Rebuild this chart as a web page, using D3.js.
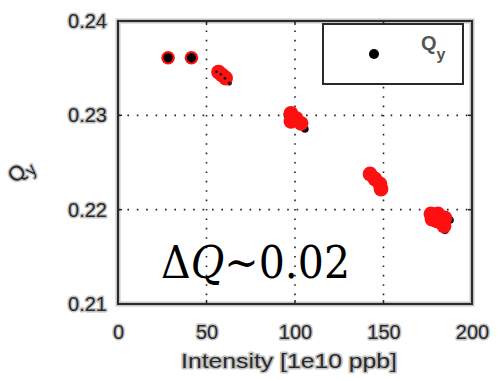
<!DOCTYPE html>
<html>
<head>
<meta charset="utf-8">
<script src="https://cdn.jsdelivr.net/npm/d3@7"></script>
<style>
  body { margin: 0; background: #fff; }
  svg { display: block; }
  .lbl { font-family: "Liberation Sans", Arial, sans-serif; fill: #2a2a2a; stroke: #c4c4c4; stroke-width: 3px; paint-order: stroke; stroke-linejoin: round; }
</style>
</head>
<body>
<svg width="498" height="381"></svg>
<script>
// tune vs intensity
var xTicks = [0, 50, 100, 150, 200];
var yTicks = [0.21, 0.22, 0.23, 0.24];

// isolated shots (black marker over red)
var shotIntensity = [28.3, 41.5];
var shotTune = [0.2361, 0.2361];

// red clusters
var clusterIntensity = [56.8, 58.8, 60.8,
  97.7, 100.6, 103.4, 97.7,
  142.4, 145.2, 148.0, 148.6,
  176.8, 180.8, 184.7, 184.2, 180.2, 177.4];
var clusterTune = [0.23459, 0.23428, 0.23396,
  0.23021, 0.22968, 0.22915, 0.22936,
  0.22378, 0.22325, 0.22272, 0.22219,
  0.21954, 0.21954, 0.21912, 0.21827, 0.2188, 0.21901];

// black spots showing through the clusters
var darkIntensity = [55.7, 58.1, 60.4, 62.8, 96.0, 105.6, 146.1, 148.9, 176.3, 187.6, 184.7];
var darkTune = [0.23462, 0.23435, 0.23392, 0.23346, 0.23003, 0.22855, 0.22333, 0.22209, 0.21979, 0.2189, 0.21784];
var darkSize = [1.3, 1.3, 1.3, 1.3, 3, 2.3, 2, 2.5, 2.8, 2.3, 2.6];

var svg = d3.select("svg");
var x = d3.scaleLinear().domain([0, 200]).range([118, 472]);
var y = d3.scaleLinear().domain([0.21, 0.24]).range([304, 21]);

// frame halo + grid
svg.append("rect")
  .attr("x", x(0)).attr("y", y(0.24))
  .attr("width", x(200) - x(0)).attr("height", y(0.21) - y(0.24))
  .attr("fill", "#fff").attr("stroke", "#c4c4c4").attr("stroke-width", 5);

var grid = svg.append("g")
  .attr("stroke", "#222").attr("stroke-width", 1.6)
  .attr("stroke-dasharray", "1.6,7.8");
grid.selectAll(".gx").data([50, 100, 150]).enter().append("line")
  .attr("x1", function (d) { return x(d); }).attr("x2", function (d) { return x(d); })
  .attr("y1", y(0.24)).attr("y2", y(0.21));
grid.selectAll(".gy").data([0.22, 0.23]).enter().append("line")
  .attr("y1", function (d) { return y(d); }).attr("y2", function (d) { return y(d); })
  .attr("x1", x(0)).attr("x2", x(200));

// inner ticks
var tk = svg.append("g").attr("stroke", "#222").attr("stroke-width", 1.5);
[50, 100, 150].forEach(function (d) {
  tk.append("line").attr("x1", x(d)).attr("x2", x(d)).attr("y1", y(0.24)).attr("y2", y(0.24) + 4);
  tk.append("line").attr("x1", x(d)).attr("x2", x(d)).attr("y1", y(0.21)).attr("y2", y(0.21) - 4);
});
[0.22, 0.23].forEach(function (d) {
  tk.append("line").attr("y1", y(d)).attr("y2", y(d)).attr("x1", x(0)).attr("x2", x(0) + 4);
  tk.append("line").attr("y1", y(d)).attr("y2", y(d)).attr("x1", x(200)).attr("x2", x(200) - 4);
});

// data
var shots = d3.range(shotIntensity.length);
svg.append("g").selectAll("circle").data(shots).enter().append("circle")
  .attr("cx", function (i) { return x(shotIntensity[i]); })
  .attr("cy", function (i) { return y(shotTune[i]); })
  .attr("r", 6.8).attr("fill", "#ff1010");
svg.append("g").selectAll("circle").data(shots).enter().append("circle")
  .attr("cx", function (i) { return x(shotIntensity[i]); })
  .attr("cy", function (i) { return y(shotTune[i]); })
  .attr("r", 4.6).attr("fill", "#000");

svg.append("g").selectAll("circle").data(d3.range(darkIntensity.length)).enter().append("circle")
  .attr("cx", function (i) { return x(darkIntensity[i]); })
  .attr("cy", function (i) { return y(darkTune[i]); })
  .attr("r", function (i) { return darkSize[i] + 1.5; }).attr("fill", "#111");
svg.append("g").selectAll("circle").data(d3.range(clusterIntensity.length)).enter().append("circle")
  .attr("cx", function (i) { return x(clusterIntensity[i]); })
  .attr("cy", function (i) { return y(clusterTune[i]); })
  .attr("r", 7.4).attr("fill", "#ff1010");
svg.append("g").selectAll("circle").data(d3.range(4)).enter().append("circle")
  .attr("cx", function (i) { return x(darkIntensity[i]); })
  .attr("cy", function (i) { return y(darkTune[i]); })
  .attr("r", function (i) { return darkSize[i]; }).attr("fill", "#111");

// frame on top
svg.append("rect")
  .attr("x", x(0)).attr("y", y(0.24))
  .attr("width", x(200) - x(0)).attr("height", y(0.21) - y(0.24))
  .attr("fill", "none").attr("stroke", "#2a2a2a").attr("stroke-width", 2);

// axes labels
var yAxis = svg.append("g").attr("transform", "translate(" + x(0) + ",0)")
  .call(d3.axisLeft(y).tickValues(yTicks).tickFormat(d3.format(".2f")).tickSize(0).tickPadding(11));
var xAxis = svg.append("g").attr("transform", "translate(0," + y(0.21) + ")")
  .call(d3.axisBottom(x).tickValues(xTicks).tickFormat(d3.format("d")).tickSize(0).tickPadding(21));
[yAxis, xAxis].forEach(function (a) {
  a.select(".domain").remove();
  a.selectAll("text").attr("class", "lbl").style("font-size", "20px");
});

svg.append("text").attr("class", "lbl")
  .attr("x", 289).attr("y", 368).attr("text-anchor", "middle")
  .attr("textLength", 216).attr("lengthAdjust", "spacingAndGlyphs")
  .style("font-size", "20px")
  .text("Intensity [1e10 ppb]");

var yl = svg.append("text").attr("class", "lbl")
  .attr("transform", "translate(16,184) rotate(-45)")
  .style("font-size", "21px");
yl.append("tspan").text("Q");
yl.append("tspan").attr("dy", 6).style("font-size", "17px").text("y");

// legend
svg.append("rect").attr("x", 323).attr("y", 24).attr("width", 140).attr("height", 60)
  .attr("fill", "#fff").attr("stroke", "#2a2a2a").attr("stroke-width", 2);
svg.append("circle").attr("cx", 374).attr("cy", 54).attr("r", 5).attr("fill", "#000");
var lt = svg.append("text").attr("x", 421).attr("y", 50)
  .style("font-family", "Liberation Sans, Arial, sans-serif").style("font-size", "20px").style("font-weight", "bold")
  .attr("fill", "#555");
lt.append("tspan").text("Q");
lt.append("tspan").attr("dy", 10).style("font-size", "16px").text("y");

// annotation
var ann = svg.append("text").attr("x", 161).attr("y", 278)
  .attr("textLength", 189).attr("lengthAdjust", "spacingAndGlyphs")
  .style("font-family", "DejaVu Serif, Liberation Serif, serif").style("font-size", "44px")
  .attr("fill", "#000");
ann.append("tspan").text("\u0394");
ann.append("tspan").style("font-style", "italic").text("Q");
ann.append("tspan").text("~0.02");
</script>
</body>
</html>
